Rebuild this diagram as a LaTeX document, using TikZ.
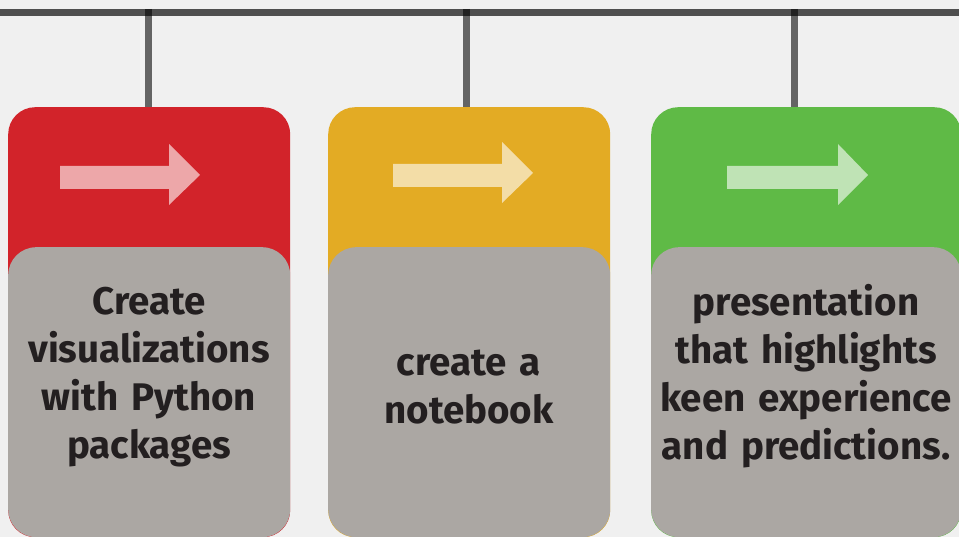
\documentclass[tikz,border=0pt]{standalone}
\usepackage{fontspec}
\setmainfont{Fira Sans}
\usepackage{tikz}
\definecolor{bgc}{HTML}{F0F0F0}
\definecolor{cardred}{HTML}{D2232A}
\definecolor{cardyellow}{HTML}{E3AB24}
\definecolor{cardgreen}{HTML}{5FBA46}
\definecolor{panelgray}{HTML}{ABA7A3}
\definecolor{inktext}{HTML}{231F20}
\tikzstyle{card} = [rectangle, rounded corners=27pt, minimum height=430pt, inner sep=0pt, anchor=north west]
\tikzstyle{panel} = [rectangle, rounded corners=28pt, minimum height=290pt, inner sep=0pt, fill=panelgray, anchor=south]
\tikzstyle{steptext} = [text=inktext, align=center, text width=320pt, inner sep=0pt, anchor=base, font=\fontsize{38.5}{48}\selectfont\bfseries]
\tikzstyle{rail} = [line width=7pt, draw=black, draw opacity=0.67]
\tikzstyle{hanger} = [line width=7pt, draw=black, draw opacity=0.58]
\tikzstyle{pointer} = [fill=white, fill opacity=0.6]

\begin{document}
\begin{tikzpicture}[x=1pt, y=-1pt]
	\fill[bgc] (0,0) rectangle (959,537);
	\useasboundingbox (0,0) rectangle (959,537);
	
	% top rail and hangers
	\coordinate (rail west) at (0,12.5);
	\coordinate (rail east) at (959,12.5);
	\coordinate (hook1) at (148.5,9);
	\coordinate (hook2) at (466.5,9);
	\coordinate (hook3) at (794.5,9);
	
	\node (card1) [card, fill=cardred, minimum width=282pt] at (8,107) {};
	\node (card2) [card, fill=cardyellow, minimum width=282pt] at (328,107) {};
	\node (card3) [card, fill=cardgreen, minimum width=310pt] at (651,107) {};
	
	\draw [rail](rail west) -- (rail east);
	\draw [hanger](hook1) -- (hook1 |- card1.north);
	\draw [hanger](hook2) -- (hook2 |- card2.north);
	\draw [hanger](hook3) -- (hook3 |- card3.north);
	
	% arrows
	\fill[pointer] (60,166) -- (169,166) -- (169,144) -- (200,175) -- (169,205) -- (169,189) -- (60,189) -- cycle;
	\fill[pointer] (393,164) -- (502,164) -- (502,142) -- (533,173) -- (502,203) -- (502,187) -- (393,187) -- cycle;
	\fill[pointer] (727,166) -- (838,166) -- (838,144) -- (868,175) -- (838,205) -- (838,189) -- (727,189) -- cycle;
	
	\node (panel1) [panel, minimum width=282pt] at (card1.south) {};
	\node (panel2) [panel, minimum width=282pt] at (card2.south) {};
	\node (panel3) [panel, minimum width=310pt] at (card3.south) {};
	
	\node (step1) [steptext] at (149,315) {Create\\visualizations\\with Python\\packages};
	\node (step2) [steptext] at (469,376) {create a\\notebook};
	\node (step3) [steptext] at (806,316) {presentation\\that highlights\\keen experience\\and predictions.};
\end{tikzpicture}
\end{document}
